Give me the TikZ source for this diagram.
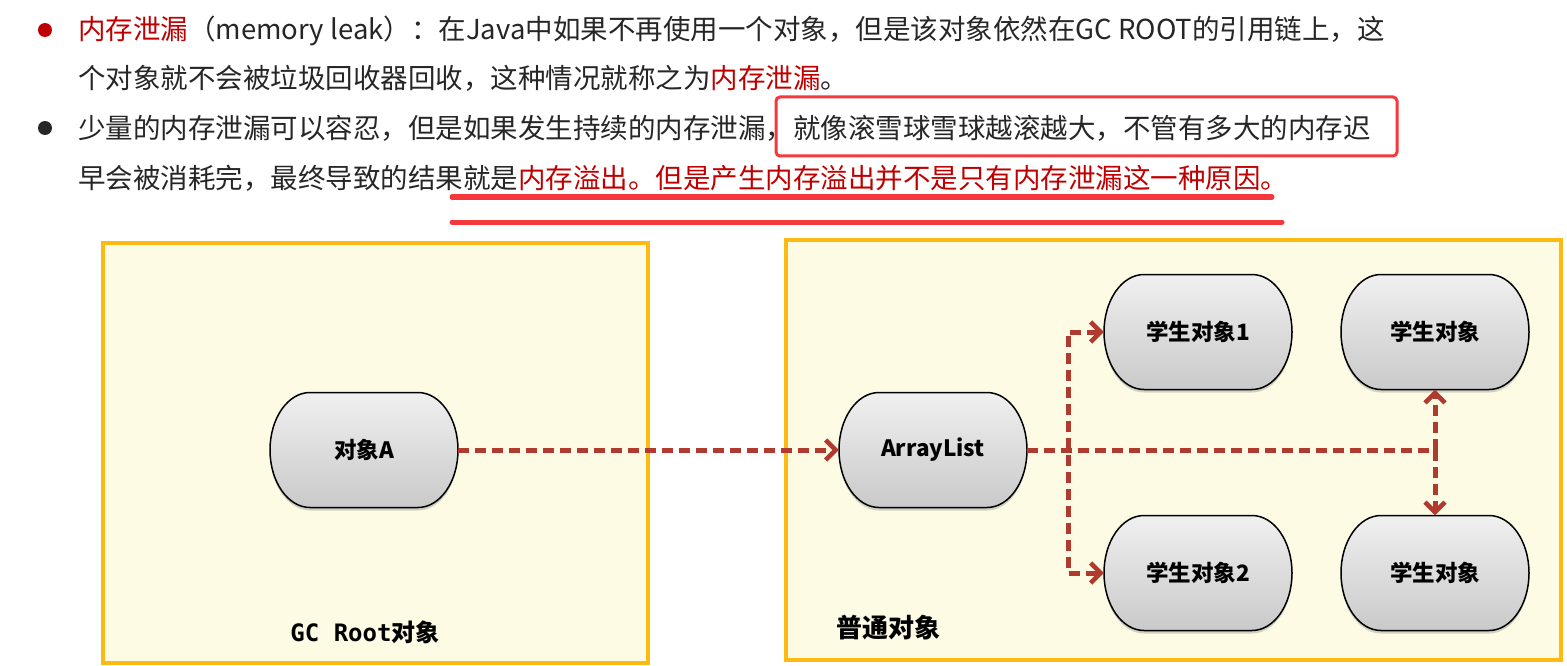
\documentclass[tikz,border=0pt]{standalone}
\usepackage{fontspec}
\setmainfont{Noto Sans CJK SC}
\newfontfamily\monob{DejaVu Sans Mono}
\usetikzlibrary{arrows.meta,shadows}
\definecolor{txt}{HTML}{262626}
\definecolor{redtxt}{HTML}{C00000}
\definecolor{markred}{HTML}{F5383C}
\definecolor{boxline}{HTML}{FDBA13}
\definecolor{boxfill}{HTML}{FEFBE4}
\definecolor{arrowred}{HTML}{B03A2E}
\tikzset{
  line/.style={anchor=base west, inner sep=0pt, text=txt, font=\fontsize{27.5}{30}\selectfont},
  region/.style={draw=boxline, line width=4pt, fill=boxfill},
  objshape/.style={draw=black, line width=1.5pt, top color=gray!12, bottom color=gray!42,
     drop shadow={opacity=0.35, shadow xshift=0pt, shadow yshift=-3pt}},
  objtext/.style={minimum width=188pt, minimum height=115pt, inner sep=0pt, text=black,
     font=\bfseries\fontsize{22.5}{26}\selectfont},
  conn/.style={draw=arrowred, line width=5pt, dash pattern=on 11pt off 6pt},
  barb/.tip={Straight Barb[length=10pt,width=20pt,line width=4.5pt]},
  tip/.style={-{barb}},
  bitip/.style={{barb}-{barb}},
}
\begin{document}
\begin{tikzpicture}[x=1pt,y=-1pt]
\useasboundingbox (0,0) rectangle (1567,666);
\fill[white] (0,0) rectangle (1567,666);
% text
\fill[redtxt] (45,30) circle (7);
\fill[black!85] (45,128) circle (7);
\node[line] (l1) at (78,40) {\textcolor{redtxt}{内存泄漏}（memory leak）：在Java中如果不再使用一个对象，但是该对象依然在GC ROOT的引用链上，这};
\node[line] (l2) at (78,89) {个对象就不会被垃圾回收器回收，这种情况就称之为\textcolor{redtxt}{内存泄漏}。};
\node[line] (l3) at (78,139) {少量的内存泄漏可以容忍，但是如果发生持续的内存泄漏，就像滚雪球雪球越滚越大，不管有多大的内存迟};
\node[line] (l4) at (78,189) {早会被消耗完，最终导致的结果就是\textcolor{redtxt}{内存溢出。但是产生内存溢出并不是只有内存泄漏这一种原因。}};
\draw[markred, line width=3pt, rounded corners=4pt] (776,97) rectangle (1397,156);
\draw[markred, line width=5pt, line cap=round] (452,197) -- (1272,197);
\draw[markred, line width=5pt, line cap=round] (452,222) -- (1282,222);
% regions
\draw[region] (103,243) rectangle (648,663);
\draw[region] (786,240) rectangle (1561,660);
\node[font=\bfseries\fontsize{24}{28}\selectfont] (gcl) at (365,632) {{\monob GC Root}对象};
\node[font=\bfseries\fontsize{26}{28}\selectfont] (ptl) at (888,628) {普通对象};
% objects
\foreach \n/\x/\y/\t in {a/364/450/对象A, al/933/450/ArrayList, s1/1198/332/学生对象1, s3/1435/332/学生对象, s2/1198/573/学生对象2, s4/1435/573/学生对象}{
  \path[objshape] (\x-54,\y-57.5) -- (\x+54,\y-57.5)
     arc[start angle=90, end angle=-90, x radius=40pt, y radius=57.5pt]
     -- (\x-54,\y+57.5)
     arc[start angle=270, end angle=90, x radius=40pt, y radius=57.5pt] -- cycle;
  \node[objtext] (\n) at (\x,\y) {\t};
}
% connectors
\coordinate (bj) at (1068,450);
\draw[conn,tip] (a.east) -- (al.west);
\draw[conn] (al.east) -- (al.east -| s3.south);
\draw[conn,tip] (al.east -| s3.south) -- (s3.south);
\draw[conn,tip] (al.east -| s3.south) -- (s4.north);
\draw[conn,bitip] (s1.west) -| (bj) |- (s2.west);
\end{tikzpicture}
\end{document}
